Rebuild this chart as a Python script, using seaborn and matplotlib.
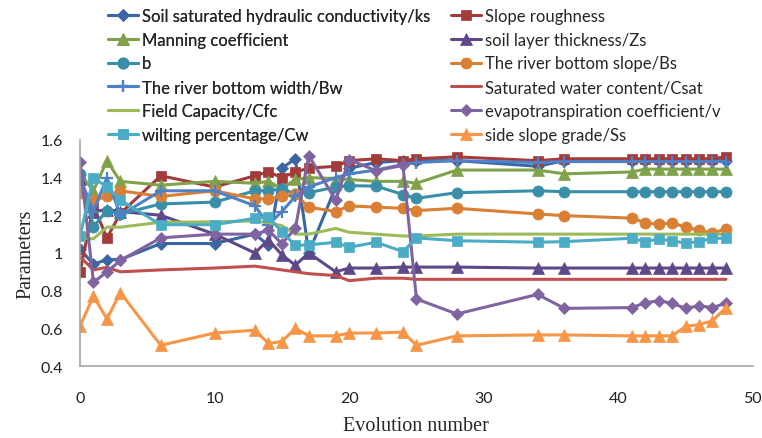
import numpy as np
import pandas as pd
import seaborn as sns
import matplotlib
matplotlib.use("Agg")
import matplotlib.pyplot as plt
from matplotlib.ticker import FuncFormatter

# Evolution numbers at which parameters were recorded
evolution = [0, 1, 2, 3, 6, 10, 13, 14, 15, 16, 17, 19, 20, 22, 24, 25, 28,
             34, 36, 41, 42, 43, 44, 45, 46, 47, 48]

ks = [1.02, 0.94, 0.965, 0.965, 1.05, 1.05, 1.10, 1.04, 1.45, 1.50, 1.00, 1.35,
      1.45, 1.48, 1.49, 1.49, 1.49, 1.46, 1.49, 1.49, 1.49, 1.49, 1.49, 1.49,
      1.49, 1.49, 1.49]
slope_roughness = [0.90, 1.25, 1.08, 1.21, 1.41, 1.35, 1.41, 1.43, 1.40, 1.43,
                   1.45, 1.46, 1.49, 1.50, 1.49, 1.50, 1.51, 1.49, 1.50, 1.50,
                   1.50, 1.50, 1.50, 1.50, 1.50, 1.50, 1.51]
manning = [1.42, 1.33, 1.49, 1.38, 1.36, 1.38, 1.37, 1.38, 1.34, 1.39, 1.40,
           1.395, 1.39, 1.38, 1.38, 1.37, 1.44, 1.44, 1.42, 1.43, 1.445, 1.445,
           1.445, 1.445, 1.445, 1.445, 1.445]
zs = [1.39, 1.22, 1.23, 1.22, 1.20, 1.10, 1.00, 1.07, 0.99, 0.935, 1.00, 0.90,
      0.92, 0.92, 0.925, 0.925, 0.925, 0.92, 0.92, 0.92, 0.92, 0.92, 0.92, 0.92,
      0.92, 0.92, 0.92]
b = [1.42, 1.14, 1.225, 1.207, 1.26, 1.27, 1.33, 1.33, 1.34, 1.313, 1.32, 1.35,
     1.357, 1.355, 1.31, 1.29, 1.32, 1.33, 1.325, 1.325, 1.325, 1.325, 1.325,
     1.325, 1.325, 1.325, 1.325]
bs = [1.32, 1.28, 1.30, 1.33, 1.30, 1.33, 1.287, 1.287, 1.30, 1.313, 1.243,
      1.22, 1.25, 1.243, 1.237, 1.225, 1.237, 1.207, 1.198, 1.185, 1.16, 1.153,
      1.16, 1.137, 1.12, 1.106, 1.127]
bw = [1.40, 1.22, 1.40, 1.20, 1.33, 1.33, 1.25, 1.15, 1.22, 1.30, 1.35, 1.40,
      1.42, 1.44, 1.47, 1.48, 1.49, 1.48, 1.485, 1.485, 1.485, 1.485, 1.485,
      1.485, 1.485, 1.485, 1.485]
csat = [0.98, 0.91, 0.924, 0.90, 0.91, 0.92, 0.93, 0.92, 0.91, 0.90, 0.89, 0.88,
        0.853, 0.866, 0.866, 0.86, 0.86, 0.86, 0.86, 0.86, 0.86, 0.86, 0.86,
        0.86, 0.86, 0.86, 0.86]
cfc = [1.08, 1.075, 1.137, 1.137, 1.163, 1.165, 1.17, 1.16, 1.145, 1.10, 1.10,
       1.13, 1.11, 1.10, 1.09, 1.09, 1.10, 1.10, 1.10, 1.10, 1.10, 1.10, 1.10,
       1.10, 1.10, 1.10, 1.10]
v = [1.485, 0.844, 0.90, 0.96, 1.08, 1.10, 1.10, 1.12, 1.05, 1.13, 1.517, 1.28,
     1.495, 1.437, 1.465, 0.756, 0.676, 0.78, 0.706, 0.71, 0.735, 0.747, 0.733,
     0.706, 0.72, 0.71, 0.733]
cw = [1.09, 1.40, 1.35, 1.28, 1.15, 1.15, 1.184, 1.19, 1.113, 1.04, 1.043, 1.057,
      1.03, 1.057, 1.007, 1.08, 1.065, 1.057, 1.06, 1.078, 1.06, 1.075, 1.064,
      1.053, 1.06, 1.078, 1.078]
ss = [0.612, 0.77, 0.65, 0.79, 0.51, 0.575, 0.59, 0.52, 0.53, 0.60, 0.56, 0.56,
      0.575, 0.575, 0.58, 0.51, 0.56, 0.565, 0.565, 0.56, 0.56, 0.56, 0.56, 0.61,
      0.62, 0.64, 0.71]

labels = [
    "Soil saturated hydraulic conductivity/ks", "Slope roughness",
    "Manning coefficient", "soil layer thickness/Zs",
    "b", "The river bottom slope/Bs",
    "The river bottom width/Bw", "Saturated water content/Csat",
    "Field Capacity/Cfc", "evapotranspiration coefficient/v",
    "wilting percentage/Cw", "side slope grade/Ss",
]
series = [ks, slope_roughness, manning, zs, b, bs, bw, csat, cfc, v, cw, ss]

# colour, marker, marker size for each series
styles = [
    ("#3A66A4", "D", 6.5),
    ("#A33B3B", "s", 7.5),
    ("#80A24A", "^", 8.5),
    ("#5E4888", "^", 8.5),
    ("#3A8EA8", "o", 8),
    ("#D98035", "o", 8),
    ("#4F81C7", "+", 9),
    ("#C0504D", None, 0),
    ("#9BBB59", None, 0),
    ("#8064A2", "D", 6.5),
    ("#4BACC6", "s", 7.5),
    ("#F79646", "^", 8.5),
]

sns.set_theme(style="white")
plt.rcParams["font.family"] = ["Lato", "DejaVu Sans"]

fig = plt.figure(figsize=(7.62, 4.39), dpi=100)
ax = fig.add_axes([0.105, 0.164, 0.883, 0.515])

handles = []
for lab, vals, (col, mk, ms) in zip(labels, series, styles):
    df = pd.DataFrame({"Evolution number": evolution, "Parameters": vals})
    sns.lineplot(data=df, x="Evolution number", y="Parameters", ax=ax,
                 color=col, linewidth=2.2, marker=mk, markersize=ms,
                 markeredgecolor=col, markeredgewidth=1.6 if mk == "+" else 0.5,
                 label=lab, legend=False)
    handles.append(ax.lines[-1])

ax.set_xlim(0, 50)
ax.set_ylim(0.4, 1.6)
ax.set_xticks(np.arange(0, 51, 10))
ax.set_yticks(np.arange(0.4, 1.61, 0.2))
ax.yaxis.set_major_formatter(FuncFormatter(lambda y, _: f"{round(y, 1):g}"))
ax.tick_params(axis="both", labelsize=11.5, length=0, colors="#222222")
ax.tick_params(axis="x", pad=18)
ax.tick_params(axis="y", pad=12)
for side in ("top", "right"):
    ax.spines[side].set_visible(False)
for side in ("left", "bottom"):
    ax.spines[side].set_color("#A6A6A6")
    ax.spines[side].set_linewidth(1.2)

ax.set_xlabel("Evolution number", fontsize=14.5, family="Liberation Serif", labelpad=8)
ax.set_ylabel("Parameters", fontsize=14.5, family="Liberation Serif", labelpad=4)

# Two legend columns, each placed on its own
leg_kw = dict(loc="upper left", frameon=False, fontsize=12, handlelength=1.8,
              handletextpad=0.25, labelspacing=0.47, borderpad=0,
              borderaxespad=0)
col1 = [0, 2, 4, 6, 8, 10]
col2 = [1, 3, 5, 7, 9, 11]
leg1 = fig.legend([handles[i] for i in col1], [labels[i] for i in col1],
                  bbox_to_anchor=(108 / 762, 0.980), **leg_kw)
fig.add_artist(leg1)
fig.legend([handles[i] for i in col2], [labels[i] for i in col2],
           bbox_to_anchor=(451 / 762, 0.980), **leg_kw)

fig.savefig("out.png", dpi=100)
